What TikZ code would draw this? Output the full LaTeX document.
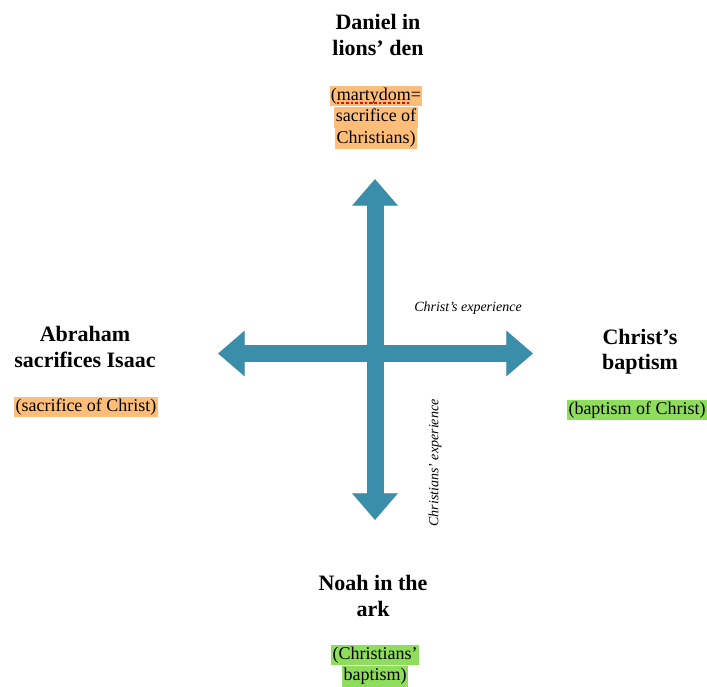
\documentclass[tikz,border=0pt]{standalone}
\usepackage{fontspec}
\setmainfont{Liberation Serif}
\usetikzlibrary{arrows.meta,positioning}
\definecolor{arrowteal}{RGB}{58,142,170}
\definecolor{hlorange}{RGB}{255,189,122}
\definecolor{hlgreen}{RGB}{142,221,92}

\begin{document}
\begin{tikzpicture}[x=0.75pt,y=-0.75pt,
	title/.style={align=center,font=\fontsize{16.5}{19}\selectfont\bfseries},
	note/.style={inner xsep=1pt,inner ysep=1.1pt,text height=10pt,text depth=3.5pt,font=\fontsize{13.5}{15.75}\selectfont},
	orangenote/.style={note,fill=hlorange},
	greennote/.style={note,fill=hlgreen},
	axislabel/.style={font=\fontsize{10.5}{12}\selectfont\itshape},
	axis/.style={line width=12.75pt,arrowteal,{Triangle[width=33pt,length=20pt]}-{Triangle[width=33pt,length=20pt]}},
	axisshadow/.style={axis,black,opacity=.2,shift={(1.5,2.5)}}]
				\useasboundingbox (0,0) rectangle (707,686);
				
				\coordinate (T) at (375,179);
				\coordinate (B) at (375,520);
				\coordinate (L) at (218,353.5);
				\coordinate (R) at (533,353.5);
				
				\path [axisshadow] (L) edge (R);
				\path [axisshadow] (T) edge (B);
				\path [axis] (L) edge (R);
				\path [axis] (T) edge (B);
				
				\node[title] (daniel) at (378,35) {Daniel in\\lions’ den};
				\node[orangenote] (mart) at (376,96) {(martydom=};
				\node[orangenote,below=0pt of mart] (sac) {sacrifice of };
				\node[orangenote,below=0pt of sac] (chr) {Christians)};
				\draw[red,dash pattern=on 2pt off 1.5pt,line width=1.6pt] ([xshift=5.5pt,yshift=-2pt]mart.base west) -- ([xshift=-9pt,yshift=-2pt]mart.base east);
				
				\node[title] (abraham) at (85,347) {Abraham\\sacrifices Isaac};
				\node[orangenote] (soc) at (86,407) {(sacrifice of Christ)};
				
				\node[title] (baptism) at (640,352) {Christ’s\\baptism};
				\node[greennote] (boc) at (637,410) {(baptism of Christ)};
				
				\node[title] (noah) at (373,596) {Noah in the\\ark};
				\node[greennote] (cb) at (375,655) {(Christians’};
				\node[greennote,below=0pt of cb] (bap) {baptism)};
				
				\node[axislabel] (ce) at (468,308) {Christ’s experience};
				\node[axislabel,rotate=90] (xe) at (435,463) {Christians’ experience};
\end{tikzpicture}
\end{document}
